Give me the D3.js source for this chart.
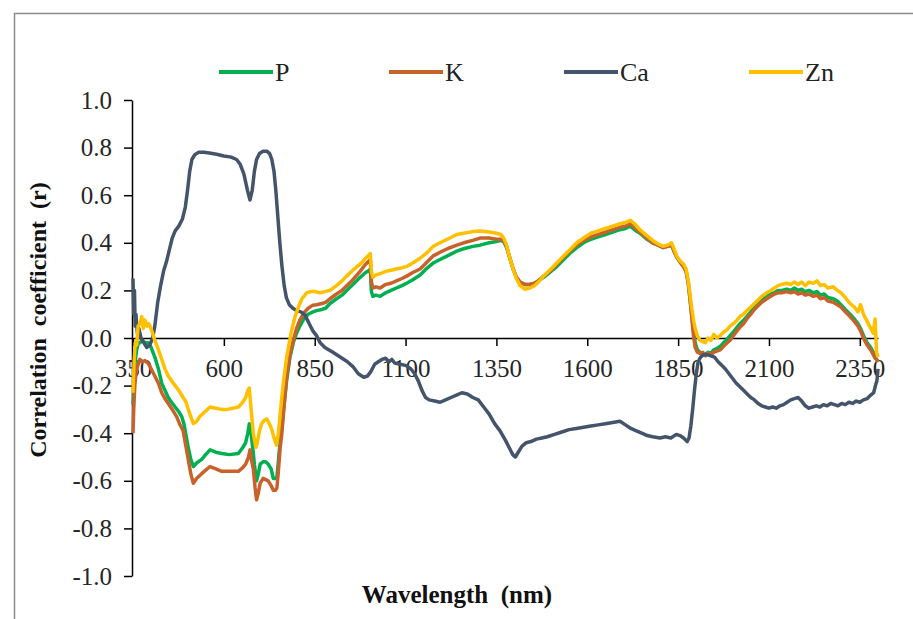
<!DOCTYPE html>
<html>
<head>
<meta charset="utf-8">
<script src="https://cdn.jsdelivr.net/npm/d3@7"></script>
<style>
  html, body { margin: 0; padding: 0; background: #fff; }
  svg { display: block; }
  text { font-family: "Times New Roman", "Liberation Serif", serif; }
</style>
</head>
<body>
<svg id="chart" width="913" height="619"></svg>
<script>
// Correlation (r) between reflectance and nutrient content, per wavelength (nm)
const elements = ["P", "K", "Ca", "Zn"];
const colors = ["#00B050", "#C8612A", "#44546A", "#FFC000"];
const xTicks = [350, 600, 850, 1100, 1350, 1600, 1850, 2100, 2350];
const yTicks = [-1.0, -0.8, -0.6, -0.4, -0.2, 0.0, 0.2, 0.4, 0.6, 0.8, 1.0];

// [wavelength, r]
const pSeries = [
  [350,-0.28],[353,-0.20],[356,-0.10],[360,-0.05],[365,-0.02],[369,-0.02],[375,-0.01],[383,-0.02],[392,-0.02],[400,-0.04],
  [410,-0.08],[420,-0.13],[429,-0.19],[438,-0.22],[447,-0.25],[456,-0.27],[466,-0.29],[476,-0.31],[484,-0.33],[490,-0.36],
  [496,-0.41],[502,-0.46],[509,-0.51],[516,-0.54],[525,-0.525],[539,-0.51],[550,-0.49],[562,-0.47],[578,-0.48],[594,-0.485],
  [615,-0.49],[640,-0.485],[652,-0.46],[660,-0.44],[666,-0.40],[670,-0.36],[675,-0.40],[679,-0.455],[684,-0.53],[690,-0.60],
  [695,-0.57],[700,-0.53],[708,-0.52],[715,-0.52],[722,-0.53],[730,-0.55],[736,-0.59],[742,-0.59],[746,-0.585],[750,-0.52],
  [755,-0.43],[759,-0.385],[765,-0.29],[773,-0.175],[782,-0.08],[791,-0.02],[800,0.02],[809,0.05],[820,0.08],[832,0.10],
  [845,0.11],[855,0.115],[870,0.12],[880,0.125],[892,0.145],[910,0.165],[925,0.18],[938,0.20],[955,0.225],[975,0.255],
  [990,0.275],[1000,0.285],[1003,0.29],[1006,0.195],[1010,0.175],[1018,0.18],[1030,0.175],[1045,0.19],[1060,0.20],[1075,0.21],
  [1090,0.22],[1103,0.23],[1120,0.245],[1140,0.265],[1160,0.295],[1176,0.315],[1195,0.33],[1215,0.345],[1241,0.365],[1260,0.375],
  [1285,0.385],[1305,0.39],[1330,0.40],[1350,0.405],[1362,0.41],[1370,0.405],[1378,0.38],[1386,0.34],[1396,0.29],[1405,0.255],
  [1415,0.235],[1428,0.225],[1442,0.225],[1455,0.23],[1465,0.24],[1480,0.255],[1500,0.28],[1516,0.30],[1535,0.33],[1555,0.36],
  [1571,0.38],[1590,0.40],[1610,0.415],[1630,0.425],[1650,0.435],[1670,0.445],[1690,0.455],[1705,0.46],[1718,0.47],[1730,0.455],
  [1745,0.44],[1764,0.415],[1780,0.40],[1795,0.39],[1809,0.38],[1820,0.385],[1832,0.39],[1840,0.36],[1846,0.34],[1855,0.32],
  [1865,0.30],[1872,0.28],[1878,0.23],[1883,0.16],[1888,0.09],[1893,0.02],[1897,-0.02],[1903,-0.05],[1910,-0.06],[1918,-0.065],
  [1925,-0.07],[1932,-0.06],[1940,-0.065],[1948,-0.05],[1956,-0.045],[1966,-0.035],[1975,-0.02],[1985,-0.005],[1993,0.01],[2002,0.025],
  [2012,0.045],[2020,0.06],[2030,0.075],[2039,0.09],[2050,0.11],[2060,0.13],[2070,0.145],[2080,0.16],[2094,0.175],[2105,0.185],
  [2115,0.19],[2125,0.20],[2135,0.20],[2149,0.205],[2160,0.20],[2170,0.21],[2180,0.20],[2190,0.205],[2200,0.195],[2210,0.20],
  [2222,0.19],[2232,0.195],[2242,0.18],[2252,0.185],[2262,0.17],[2277,0.165],[2288,0.155],[2298,0.14],[2310,0.12],[2323,0.10],
  [2335,0.08],[2345,0.06],[2352,0.04],[2360,0.01],[2370,-0.02],[2380,-0.04],[2387,-0.06],[2392,-0.08],[2396,-0.09],[2400,-0.10]
];

const kSeries = [
  [350,-0.40],[352,-0.30],[355,-0.20],[358,-0.15],[362,-0.12],[369,-0.09],[375,-0.10],[383,-0.095],[392,-0.107],[400,-0.13],
  [410,-0.16],[420,-0.19],[429,-0.23],[438,-0.255],[447,-0.275],[458,-0.30],[470,-0.33],[478,-0.36],[488,-0.39],[495,-0.45],
  [502,-0.51],[509,-0.57],[516,-0.61],[525,-0.59],[539,-0.57],[550,-0.555],[562,-0.54],[578,-0.55],[594,-0.56],[615,-0.56],
  [640,-0.56],[652,-0.545],[660,-0.53],[668,-0.50],[672,-0.47],[677,-0.52],[681,-0.55],[686,-0.63],[690,-0.68],[695,-0.65],
  [700,-0.61],[708,-0.59],[715,-0.595],[722,-0.60],[730,-0.62],[736,-0.64],[742,-0.64],[746,-0.63],[750,-0.56],[755,-0.46],
  [759,-0.41],[765,-0.30],[773,-0.16],[782,-0.07],[791,-0.01],[800,0.04],[809,0.075],[820,0.105],[832,0.125],[845,0.138],
  [855,0.14],[870,0.145],[880,0.15],[892,0.165],[910,0.185],[925,0.20],[938,0.22],[955,0.245],[975,0.28],[990,0.31],
  [1000,0.325],[1003,0.33],[1006,0.235],[1010,0.21],[1018,0.215],[1030,0.21],[1045,0.225],[1060,0.23],[1075,0.24],[1090,0.25],
  [1103,0.26],[1120,0.275],[1140,0.29],[1160,0.32],[1176,0.345],[1195,0.36],[1215,0.375],[1241,0.39],[1260,0.40],[1285,0.41],
  [1305,0.42],[1330,0.42],[1350,0.415],[1362,0.415],[1370,0.41],[1378,0.385],[1386,0.34],[1396,0.29],[1405,0.255],[1415,0.235],
  [1428,0.225],[1442,0.225],[1455,0.23],[1465,0.24],[1480,0.26],[1500,0.285],[1516,0.31],[1535,0.34],[1555,0.37],[1571,0.39],
  [1590,0.41],[1610,0.425],[1630,0.435],[1650,0.445],[1670,0.455],[1690,0.465],[1705,0.47],[1718,0.48],[1730,0.465],[1745,0.445],
  [1764,0.42],[1780,0.40],[1795,0.39],[1809,0.38],[1820,0.385],[1832,0.39],[1840,0.36],[1846,0.34],[1855,0.32],[1865,0.30],
  [1872,0.28],[1878,0.23],[1883,0.16],[1888,0.08],[1893,0.00],[1897,-0.04],[1903,-0.06],[1910,-0.065],[1918,-0.06],[1925,-0.075],
  [1932,-0.065],[1940,-0.07],[1948,-0.06],[1956,-0.055],[1966,-0.05],[1975,-0.035],[1985,-0.02],[1993,-0.01],[2002,0.01],[2012,0.03],
  [2020,0.045],[2030,0.06],[2039,0.08],[2050,0.10],[2060,0.12],[2070,0.135],[2080,0.15],[2094,0.165],[2105,0.175],[2115,0.185],
  [2125,0.19],[2135,0.19],[2149,0.195],[2160,0.19],[2170,0.195],[2180,0.185],[2190,0.19],[2200,0.18],[2210,0.185],[2222,0.175],
  [2232,0.18],[2242,0.165],[2252,0.17],[2262,0.155],[2277,0.15],[2288,0.14],[2298,0.13],[2310,0.11],[2323,0.09],[2335,0.07],
  [2345,0.05],[2352,0.03],[2360,0.00],[2370,-0.03],[2380,-0.05],[2387,-0.07],[2392,-0.085],[2396,-0.09],[2400,-0.10]
];

const caSeries = [
  [350,0.25],[352,0.10],[354,0.20],[356,0.05],[358,0.10],[362,0.02],[366,0.04],[372,0.00],[380,-0.02],[388,-0.04],
  [396,-0.03],[404,0.00],[410,0.05],[418,0.15],[426,0.22],[434,0.28],[442,0.32],[450,0.37],[458,0.42],[466,0.45],
  [476,0.47],[486,0.50],[494,0.55],[500,0.62],[506,0.70],[512,0.75],[520,0.77],[530,0.78],[545,0.78],[560,0.777],
  [580,0.772],[600,0.765],[620,0.76],[635,0.75],[645,0.73],[655,0.69],[665,0.62],[672,0.58],[678,0.62],[684,0.70],
  [690,0.75],[698,0.775],[708,0.785],[718,0.785],[726,0.775],[732,0.75],[738,0.70],[743,0.62],[748,0.52],[754,0.40],
  [760,0.30],[766,0.22],[772,0.17],[780,0.14],[790,0.125],[800,0.115],[812,0.11],[824,0.095],[835,0.06],[845,0.03],
  [855,0.01],[865,-0.02],[878,-0.04],[900,-0.06],[920,-0.08],[940,-0.10],[955,-0.12],[970,-0.15],[985,-0.165],[995,-0.16],
  [1005,-0.14],[1015,-0.11],[1025,-0.10],[1035,-0.09],[1045,-0.085],[1055,-0.10],[1062,-0.09],[1070,-0.105],[1085,-0.11],[1100,-0.115],
  [1115,-0.13],[1125,-0.15],[1135,-0.18],[1145,-0.22],[1155,-0.25],[1165,-0.26],[1180,-0.265],[1195,-0.27],[1210,-0.26],[1225,-0.25],
  [1240,-0.24],[1255,-0.23],[1270,-0.235],[1285,-0.25],[1300,-0.26],[1315,-0.29],[1330,-0.32],[1345,-0.36],[1360,-0.39],[1375,-0.43],
  [1385,-0.46],[1395,-0.49],[1402,-0.50],[1410,-0.48],[1420,-0.455],[1432,-0.44],[1445,-0.435],[1460,-0.425],[1475,-0.42],[1490,-0.415],
  [1510,-0.405],[1530,-0.395],[1550,-0.385],[1570,-0.38],[1590,-0.375],[1610,-0.37],[1630,-0.365],[1650,-0.36],[1670,-0.355],[1690,-0.35],
  [1705,-0.365],[1720,-0.38],[1735,-0.39],[1750,-0.40],[1765,-0.41],[1780,-0.415],[1800,-0.42],[1815,-0.415],[1830,-0.42],[1845,-0.405],
  [1855,-0.41],[1865,-0.42],[1875,-0.435],[1880,-0.42],[1885,-0.37],[1890,-0.30],[1895,-0.22],[1900,-0.15],[1905,-0.10],[1912,-0.08],
  [1920,-0.07],[1930,-0.07],[1940,-0.075],[1950,-0.08],[1960,-0.10],[1970,-0.115],[1980,-0.13],[1990,-0.15],[2000,-0.17],[2010,-0.19],
  [2020,-0.205],[2030,-0.22],[2040,-0.235],[2050,-0.25],[2060,-0.26],[2070,-0.275],[2080,-0.285],[2090,-0.29],[2100,-0.295],[2110,-0.29],
  [2120,-0.295],[2130,-0.285],[2140,-0.28],[2150,-0.27],[2160,-0.26],[2170,-0.255],[2180,-0.25],[2190,-0.265],[2200,-0.285],[2210,-0.295],
  [2220,-0.29],[2230,-0.285],[2240,-0.29],[2250,-0.28],[2260,-0.285],[2270,-0.275],[2280,-0.28],[2290,-0.285],[2300,-0.275],[2310,-0.28],
  [2320,-0.27],[2330,-0.275],[2340,-0.265],[2350,-0.27],[2360,-0.26],[2370,-0.255],[2380,-0.24],[2388,-0.23],[2393,-0.20],[2397,-0.18],
  [2400,-0.13]
];

const znSeries = [
  [350,-0.23],[353,-0.10],[356,-0.02],[360,-0.03],[364,0.05],[369,0.06],[374,0.09],[378,0.04],[383,0.075],[388,0.05],
  [393,0.06],[397,0.05],[404,0.02],[410,-0.01],[420,-0.05],[429,-0.09],[438,-0.13],[447,-0.16],[456,-0.18],[466,-0.20],
  [476,-0.22],[488,-0.25],[496,-0.27],[502,-0.30],[509,-0.33],[516,-0.36],[525,-0.35],[534,-0.33],[548,-0.31],[562,-0.29],
  [578,-0.295],[594,-0.30],[610,-0.30],[625,-0.295],[640,-0.29],[652,-0.27],[660,-0.25],[666,-0.22],[670,-0.21],[675,-0.30],
  [681,-0.40],[688,-0.46],[692,-0.44],[698,-0.39],[704,-0.36],[712,-0.345],[718,-0.34],[725,-0.36],[732,-0.385],[738,-0.42],
  [745,-0.45],[750,-0.40],[755,-0.32],[760,-0.24],[766,-0.16],[773,-0.08],[780,-0.02],[787,0.035],[796,0.09],[805,0.13],
  [815,0.165],[828,0.19],[840,0.195],[851,0.195],[865,0.19],[878,0.195],[892,0.20],[910,0.22],[925,0.24],[938,0.26],
  [955,0.285],[975,0.31],[990,0.335],[1000,0.35],[1003,0.355],[1006,0.28],[1010,0.255],[1018,0.265],[1030,0.27],[1045,0.28],
  [1060,0.285],[1075,0.29],[1090,0.295],[1103,0.30],[1120,0.315],[1140,0.335],[1160,0.36],[1176,0.385],[1195,0.40],[1215,0.415],
  [1241,0.435],[1260,0.44],[1285,0.447],[1305,0.45],[1330,0.445],[1350,0.44],[1362,0.435],[1370,0.42],[1378,0.39],[1386,0.34],
  [1396,0.29],[1405,0.25],[1415,0.22],[1428,0.205],[1442,0.21],[1455,0.22],[1465,0.235],[1480,0.26],[1500,0.29],[1516,0.315],
  [1535,0.345],[1555,0.375],[1571,0.40],[1590,0.42],[1610,0.44],[1630,0.45],[1650,0.46],[1670,0.47],[1690,0.48],[1705,0.485],
  [1718,0.495],[1730,0.48],[1745,0.455],[1764,0.43],[1780,0.41],[1795,0.395],[1809,0.385],[1820,0.39],[1832,0.40],[1840,0.37],
  [1846,0.345],[1855,0.325],[1865,0.31],[1872,0.29],[1878,0.24],[1883,0.18],[1888,0.12],[1893,0.07],[1897,0.04],[1903,0.01],
  [1910,-0.01],[1918,-0.015],[1925,-0.02],[1932,0.0],[1940,-0.01],[1948,0.015],[1956,0.00],[1966,0.01],[1975,0.025],[1985,0.035],
  [1993,0.05],[2002,0.06],[2012,0.075],[2020,0.09],[2030,0.10],[2039,0.115],[2050,0.13],[2060,0.145],[2070,0.16],[2080,0.175],
  [2094,0.19],[2105,0.20],[2115,0.21],[2125,0.22],[2135,0.225],[2149,0.23],[2160,0.225],[2170,0.235],[2180,0.225],[2190,0.235],
  [2200,0.22],[2210,0.235],[2222,0.23],[2232,0.24],[2242,0.22],[2252,0.225],[2262,0.21],[2277,0.215],[2288,0.20],[2298,0.19],
  [2310,0.17],[2323,0.145],[2335,0.13],[2345,0.11],[2352,0.14],[2360,0.10],[2370,0.07],[2380,0.04],[2387,0.02],[2392,0.08],
  [2396,-0.06],[2400,-0.08]
];

const seriesList = [pSeries, kSeries, caSeries, znSeries];

const svg = d3.select("#chart");
const FONT = '"Times New Roman", "Liberation Serif", serif';

// chart frame
svg.append("rect")
  .attr("x", 14.5).attr("y", 13.5)
  .attr("width", 1000).attr("height", 1000)
  .attr("fill", "none").attr("stroke", "#8c8c8c").attr("stroke-width", 1.5);

const x = d3.scaleLinear().domain([350, 2400]).range([133, 878]);
const y = d3.scaleLinear().domain([-1, 1]).range([576, 100]);

// y axis
const yAxis = svg.append("g")
  .attr("transform", `translate(${x(350) - 1},0)`)
  .call(d3.axisLeft(y).tickValues(yTicks).tickSize(8).tickSizeOuter(0).tickPadding(12)
    .tickFormat(d => d.toFixed(1)));

// x axis along r = 0
const xAxis = svg.append("g")
  .attr("transform", `translate(0,${y(0)})`)
  .call(d3.axisBottom(x).tickValues(xTicks).tickSize(8).tickSizeOuter(0).tickPadding(13)
    .tickFormat(d => String(d)));

[yAxis, xAxis].forEach(g => {
  g.attr("font-family", null);
  g.select(".domain").attr("stroke", "#000").attr("stroke-width", 1.5);
  g.selectAll(".tick line").attr("stroke", "#000").attr("stroke-width", 1.5);
  g.selectAll(".tick text")
    .attr("fill", "#262626").style("font-family", FONT).style("font-size", "25px");
});

// data lines
const line = d3.line().x(d => x(d[0])).y(d => y(d[1]));
seriesList.forEach((s, i) => {
  svg.append("path")
    .datum(s)
    .attr("fill", "none")
    .attr("stroke", colors[i])
    .attr("stroke-width", 3.5)
    .attr("stroke-linejoin", "round")
    .attr("d", line);
});

// legend
const legendX = [219, 389, 564, 749];
const legend = svg.append("g");
elements.forEach((name, i) => {
  legend.append("line")
    .attr("x1", legendX[i]).attr("x2", legendX[i] + 54)
    .attr("y1", 72).attr("y2", 72)
    .attr("stroke", colors[i]).attr("stroke-width", 4);
  legend.append("text")
    .attr("x", legendX[i] + 56).attr("y", 81)
    .style("font-family", FONT).style("font-size", "26px")
    .attr("fill", "#222")
    .text(name);
});

// axis titles
svg.append("text")
  .attr("x", 457).attr("y", 603)
  .attr("text-anchor", "middle")
  .style("font-family", FONT).style("font-size", "25px").style("font-weight", "bold")
  .style("white-space", "pre")
  .attr("fill", "#111")
  .text("Wavelength  (nm)");

svg.append("text")
  .attr("transform", "translate(46,320) rotate(-90)")
  .attr("text-anchor", "middle")
  .style("font-family", FONT).style("font-size", "24px").style("font-weight", "bold")
  .style("white-space", "pre")
  .attr("fill", "#111")
  .text("Correlation  coefficient  (r)");
</script>
</body>
</html>
